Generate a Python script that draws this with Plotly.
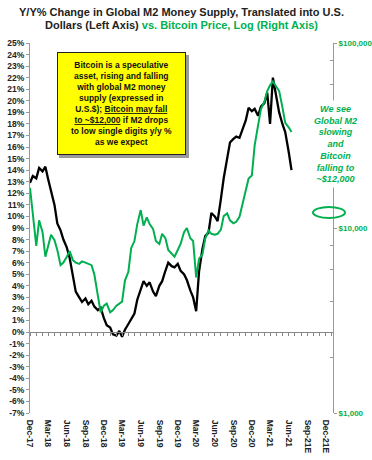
import plotly.graph_objects as go
import pandas as pd

# Semi-monthly readings, Dec-2017 .. Jul-2021
m2_yoy = [12.9, 13.5, 13.3, 14.2, 13.9, 14.3, 13.2, 12.2, 11.0, 9.4,
          8.8, 8.0, 7.3, 6.4, 4.9, 3.5, 3.0, 2.6, 2.9, 2.4,
          2.7, 2.2, 1.9, 2.1, 1.2, 0.6, 0.4, -0.2, -0.3, 0.1,
          -0.4, 0.2, 0.7, 1.1, 1.6, 2.8, 3.8, 4.4, 4.0, 4.3,
          3.5, 3.1, 4.0, 4.4, 5.3, 6.0, 5.7, 5.6, 5.9, 5.3,
          5.0, 4.5, 3.6, 3.0, 1.8, 5.2, 7.2, 8.3, 8.6, 10.3,
          10.0, 9.6, 11.5, 13.3, 15.0, 16.4, 16.7, 16.9, 16.8, 17.5,
          18.3, 19.4, 19.1, 19.3, 18.7, 19.5, 19.8, 20.7, 18.0, 22.0,
          20.5, 19.0, 18.0, 17.3, 15.6, 14.0]

btc_price = [16500, 11500, 8000, 11000, 9500, 7000, 8000, 9200, 8600, 7600,
             6300, 6500, 7000, 7500, 6700, 6500, 6400, 6600, 6500, 6400,
             6300, 5600, 4200, 3500, 3800, 3900, 3500, 3600, 3800, 3900,
             4000, 5200, 5800, 7800, 8500, 10500, 12500, 10300, 11400, 10500,
             9900, 8500, 8200, 9300, 8800, 7600, 7300, 7000, 7600, 8200,
             9500, 10000, 8800, 8500, 5400, 6800, 7200, 8800, 9700, 9300,
             9200, 9300, 9800, 11600, 12000, 11000, 10600, 10800, 11500, 13300,
             15500, 18500, 19200, 28000, 36000, 44000, 48000, 55000, 59000, 62000,
             58000, 55000, 45000, 37000, 35000, 33000]

tick_dates = ["2017-12-01", "2018-03-01", "2018-06-01", "2018-09-01", "2018-12-01",
              "2019-03-01", "2019-06-01", "2019-09-01", "2019-12-01", "2020-03-01",
              "2020-06-01", "2020-09-01", "2020-12-01", "2021-03-01", "2021-06-01",
              "2021-09-01", "2021-12-01"]
tick_labels = ["Dec-17", "Mar-18", "Jun-18", "Sep-18", "Dec-18", "Mar-19", "Jun-19",
               "Sep-19", "Dec-19", "Mar-20", "Jun-20", "Sep-20", "Dec-20", "Mar-21",
               "Jun-21", "Sep-21E", "Dec-21E"]

pct_ticks = list(range(-7, 26))
pct_labels = [f"{v}%" for v in pct_ticks]
price_ticks = [1000, 10000, 100000]
price_labels = ["$1,000", "$10,000", "$100,000"]
price_minor = [2000, 4000, 6000, 8000, 20000, 40000, 60000, 80000]

dates = pd.date_range("2017-12-01", periods=len(m2_yoy), freq="SMS")

GREEN = "#00B050"
FONT = "Liberation Sans"
XR = ["2017-12-01", "2022-01-06"]

fig = go.Figure()
fig.add_trace(go.Scatter(x=dates, y=m2_yoy, mode="lines",
                         line=dict(color="#000000", width=2.3), xaxis="x", yaxis="y"))
fig.add_trace(go.Scatter(x=dates, y=btc_price, mode="lines",
                         line=dict(color=GREEN, width=2), xaxis="x", yaxis="y2"))
fig.add_trace(go.Scatter(x=[dates[0]], y=[None], mode="lines", xaxis="x2", yaxis="y",
                         hoverinfo="skip"))

fig.update_layout(
    width=372, height=460,
    margin=dict(l=30, r=39, t=43, b=47),
    paper_bgcolor="white", plot_bgcolor="white",
    showlegend=False,
    font=dict(family=FONT, color="#222"),
    xaxis=dict(type="date", range=XR, tickvals=tick_dates, ticktext=tick_labels,
               tickangle=90, showline=False, showgrid=False, zeroline=False,
               ticks="outside", ticklen=4, tickcolor="white", automargin=False,
               tickfont=dict(size=8.5, weight="bold", color="#222")),
    xaxis2=dict(type="date", range=XR, overlaying="x", anchor="free", position=7/32,
                showline=True, linecolor="#888", linewidth=1, showgrid=False,
                zeroline=False, ticks="outside", ticklen=3, tickcolor="#888",
                tick0="2017-12-01", dtick="M1", showticklabels=False, automargin=False),
    yaxis=dict(range=[-7, 25], tickvals=pct_ticks, ticktext=pct_labels,
               showline=True, linecolor="#999", linewidth=1, showgrid=False,
               zeroline=False, ticks="outside", ticklen=3, tickcolor="#999",
               automargin=False,
               tickfont=dict(size=8.5, weight="bold", color="#222")),
    yaxis2=dict(type="log", range=[3, 5], overlaying="y", side="right",
                tickvals=price_ticks, ticktext=price_labels,
                showline=True, linecolor="#999", linewidth=1, showgrid=False,
                zeroline=False, ticks="outside", ticklen=3, tickcolor="#999",
                automargin=False,
                minor=dict(tickvals=price_minor, ticks="inside", ticklen=3,
                           tickcolor="#999", showgrid=False),
                tickfont=dict(size=8, weight="bold", color=GREEN)),
)

# Title (two lines)
fig.add_annotation(xref="paper", yref="paper", x=0.5, y=1 + (43 - 12) / 370,
                   xanchor="center", yanchor="middle", showarrow=False,
                   text="<b>Y/Y% Change in Global M2 Money Supply, Translated into U.S.</b>",
                   font=dict(family=FONT, size=11, color="#222"))
fig.add_annotation(xref="paper", yref="paper", x=0.5, y=1 + (43 - 25) / 370,
                   xanchor="center", yanchor="middle", showarrow=False,
                   text=("<b>Dollars (Left Axis) <span style='color:" + GREEN +
                         "'>vs. Bitcoin Price, Log (Right Axis)</span></b>"),
                   font=dict(family=FONT, size=11, color="#222"))

# Yellow box shadow
fig.add_shape(type="rect", xref="paper", yref="paper",
              x0=(59 - 30) / 303, x1=(189 - 30) / 303,
              y0=1 - (158 - 43) / 370, y1=1 - (55 - 43) / 370,
              fillcolor="#9a9a9a", line=dict(width=0), layer="above")
fig.add_annotation(xref="paper", yref="paper", x=(121.5 - 30) / 303,
                   y=1 - (103.5 - 43) / 370, xanchor="center", yanchor="middle",
                   showarrow=False, bgcolor="#FFFF00", bordercolor="#222",
                   borderwidth=1, borderpad=2, width=123, height=97,
                   text=("<b>Bitcoin is a speculative<br>asset, rising and falling<br>"
                         "with global M2 money<br>supply (expressed in<br>"
                         "U.S.$); <u>Bitcoin may fall</u><br><u>to ~$12,000</u> if M2 drops<br>"
                         "to low single digits y/y %<br>as we expect</b>"),
                   font=dict(family=FONT, size=8.5, color="#111"))

# Right side comment
fig.add_annotation(xref="paper", yref="paper", x=(335 - 30) / 303,
                   y=1 - (143.5 - 43) / 370, xanchor="center", yanchor="middle",
                   showarrow=False, bgcolor="white", borderpad=3,
                   text=("<b><i>We see<br>Global M2<br>slowing<br>and<br>Bitcoin<br>"
                         "falling to<br>~$12,000</i></b>"),
                   font=dict(family=FONT, size=9, color=GREEN))

# Ellipse around ~$12,000
fig.add_shape(type="circle", xref="paper", yref="paper",
              x0=(313 - 30) / 303, x1=(345 - 30) / 303,
              y0=1 - (218 - 43) / 370, y1=1 - (207 - 43) / 370,
              line=dict(color=GREEN, width=2), layer="above")

fig.write_html("out.html", config={"displayModeBar": False},
               post_script="document.body.style.margin='0';document.body.style.overflow='hidden';")
